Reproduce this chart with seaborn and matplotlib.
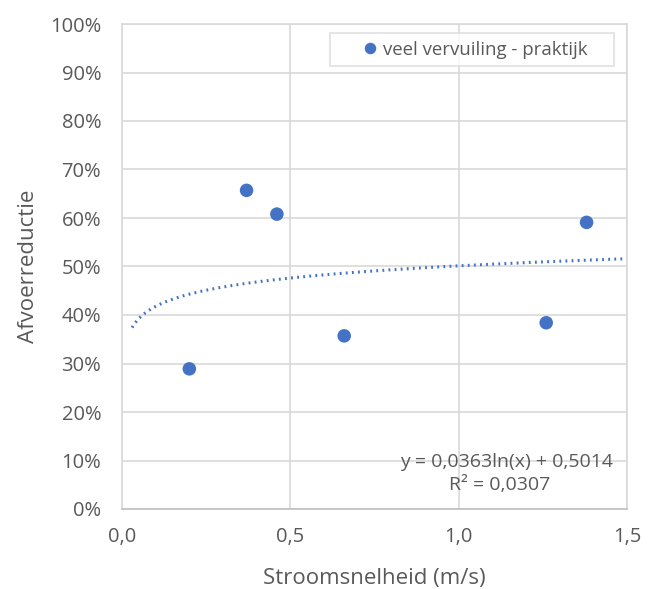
import numpy as np
import pandas as pd
import matplotlib
matplotlib.use("Agg")
import matplotlib.pyplot as plt
import seaborn as sns
from matplotlib.ticker import FuncFormatter, MultipleLocator

# Measured points: flow velocity (m/s) vs discharge reduction (fraction)
velocity = [0.20, 0.37, 0.46, 0.66, 1.26, 1.38]
reduction = [0.289, 0.657, 0.608, 0.357, 0.384, 0.591]
series_name = "veel vervuiling - praktijk"

# Logarithmic trendline coefficients
trend_a = 0.0363
trend_b = 0.5014
r_squared = 0.0307

df = pd.DataFrame({"x": velocity, "y": reduction, "serie": series_name})

sns.set_theme(style="white")
plt.rcParams["font.family"] = ["Open Sans", "DejaVu Sans"]

text_col = "#595959"
grid_col = "#d9d9d9"
blue = "#4472c4"

fig = plt.figure(figsize=(6.49, 5.89), dpi=100)
ax = fig.add_axes([122 / 649, 1 - 509 / 589, 505 / 649, 485 / 589])

sns.scatterplot(data=df, x="x", y="y", hue="serie", palette=[blue],
                s=95, edgecolor="none", ax=ax, zorder=3)

xs = np.linspace(0.03, 1.5, 300)
ax.plot(xs, trend_a * np.log(xs) + trend_b, color=blue, lw=2.2,
        linestyle=(0, (0.6, 1.4)), dash_capstyle="butt", zorder=2)

ax.set_xlim(0, 1.5)
ax.set_ylim(0, 1.0)
ax.xaxis.set_major_locator(MultipleLocator(0.5))
ax.yaxis.set_major_locator(MultipleLocator(0.1))
ax.xaxis.set_major_formatter(FuncFormatter(lambda v, p: f"{v:.1f}".replace(".", ",")))
ax.yaxis.set_major_formatter(FuncFormatter(lambda v, p: f"{v * 100:.0f}%"))

ax.grid(True, color=grid_col, lw=1.2)
ax.set_axisbelow(True)
for side in ["top", "right", "left"]:
    ax.spines[side].set_color(grid_col)
    ax.spines[side].set_linewidth(1.2)
ax.spines["bottom"].set_color("#bfbfbf")
ax.spines["bottom"].set_linewidth(1.2)

ax.tick_params(axis="both", colors=text_col, labelsize=14.5, length=0)
ax.tick_params(axis="x", pad=13)
ax.tick_params(axis="y", pad=15)

ax.set_xlabel("Stroomsnelheid (m/s)", color=text_col, fontsize=16, labelpad=15)
ax.set_ylabel("Afvoerreductie", color=text_col, fontsize=16, labelpad=8)

leg_fs = 13.4
leg = ax.legend(loc="upper left",
                bbox_to_anchor=(0.412, 0.909, 0.562, 0.072), mode="expand",
                frameon=True, fontsize=leg_fs, borderpad=0.4,
                handlelength=3.5, handletextpad=-1.05,
                markerscale=0.85, fancybox=False, borderaxespad=0)
leg.get_frame().set_edgecolor(grid_col)
leg.get_frame().set_linewidth(1.2)
for t in leg.get_texts():
    t.set_color(text_col)

ax.text(0.972, 0.097, f"y = {trend_a:.4f}ln(x) + {trend_b:.4f}".replace(".", ","),
        transform=ax.transAxes, ha="right", va="center", color=text_col, fontsize=14)
ax.text(0.848, 0.049, f"R² = {r_squared:.4f}".replace(".", ","),
        transform=ax.transAxes, ha="right", va="center", color=text_col, fontsize=14)

fig.savefig("out.png", dpi=100, facecolor="white")
